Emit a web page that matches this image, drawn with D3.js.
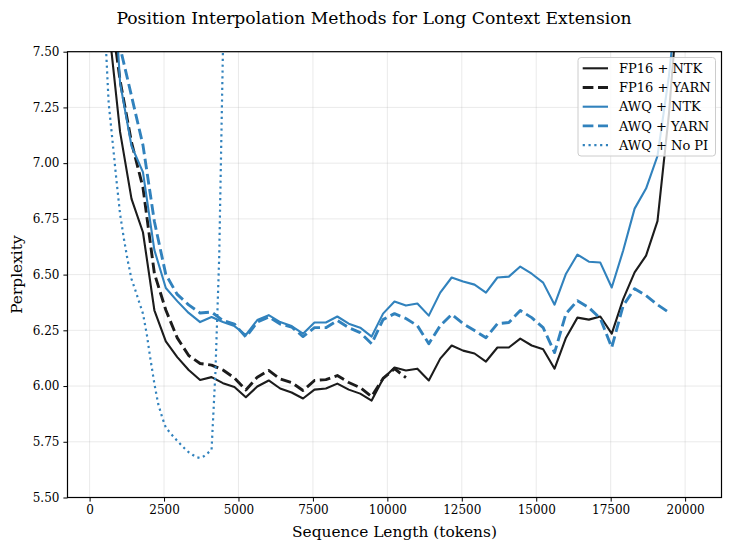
<!DOCTYPE html>
<html>
<head>
<meta charset="utf-8">
<script src="https://cdn.jsdelivr.net/npm/d3@7"></script>
<style>
  html, body { margin: 0; padding: 0; background: #fff; }
  svg { display: block; }
  text { font-family: "DejaVu Serif", "Liberation Serif", serif; }
</style>
</head>
<body>
<svg id="chart" width="731" height="549"></svg>
<script>
// ---------------- data ----------------
const seqLen = [256, 640, 1024, 1408, 1792, 2176, 2560, 2944, 3328, 3712, 4096, 4480, 4864, 5248, 5632, 6016, 6400, 6784, 7168, 7552, 7936, 8320, 8704, 9088, 9472, 9856, 10240, 10624, 11008, 11392, 11776, 12160, 12544, 12928, 13312, 13696, 14080, 14464, 14848, 15232, 15616, 16000, 16384, 16768, 17152, 17536, 17920, 18304, 18688, 19072, 19456, 19840, 20224];

const fp16Ntk = [8.60, 7.62, 7.14, 6.84, 6.69, 6.34, 6.20, 6.13, 6.072, 6.027, 6.04, 6.013, 5.996, 5.95, 5.998, 6.025, 5.989, 5.971, 5.944, 5.984, 5.989, 6.011, 5.984, 5.966, 5.935, 6.033, 6.083, 6.07, 6.078, 6.025, 6.123, 6.182, 6.159, 6.146, 6.11, 6.173, 6.173, 6.213, 6.182, 6.165, 6.078, 6.217, 6.307, 6.298, 6.312, 6.235, 6.39, 6.51, 6.585, 6.74, 7.22, 7.87, 8.50];

const fp16Yarn = [8.80, 7.758, 7.371, 7.093, 6.891, 6.505, 6.341, 6.216, 6.137, 6.101, 6.094, 6.072, 6.036, 5.982, 6.04, 6.07, 6.032, 6.016, 5.98, 6.025, 6.029, 6.047, 6.016, 5.993, 5.953, 6.034, 6.078, 6.038];

const awqNtk = [9.5, 8.2, 7.36, 7.077, 6.96, 6.61, 6.44, 6.381, 6.328, 6.287, 6.31, 6.287, 6.269, 6.229, 6.296, 6.318, 6.287, 6.269, 6.235, 6.285, 6.285, 6.312, 6.28, 6.262, 6.222, 6.325, 6.379, 6.361, 6.37, 6.316, 6.419, 6.487, 6.469, 6.455, 6.419, 6.487, 6.491, 6.536, 6.504, 6.464, 6.365, 6.504, 6.59, 6.558, 6.554, 6.442, 6.608, 6.796, 6.886, 7.032, 7.39, 7.876, 8.4];

const awqYarn = [9.2, 8.0, 7.52, 7.301, 7.081, 6.738, 6.50, 6.411, 6.364, 6.328, 6.332, 6.294, 6.278, 6.22, 6.287, 6.31, 6.278, 6.265, 6.222, 6.262, 6.262, 6.294, 6.262, 6.24, 6.19, 6.298, 6.325, 6.303, 6.271, 6.19, 6.271, 6.321, 6.28, 6.249, 6.217, 6.28, 6.285, 6.339, 6.307, 6.262, 6.15, 6.325, 6.383, 6.352, 6.303, 6.173, 6.361, 6.437, 6.406, 6.365, 6.33];

const noPiLen = [384, 512, 640, 768, 896, 1024, 1152, 1280, 1408, 1536, 1664, 1792, 1920, 2048, 2176, 2304, 2432, 2560, 2688, 2816, 2944, 3072, 3200, 3328, 3456, 3584, 3712, 3840, 3968, 4096, 4224, 4352, 4480, 4608];
const awqNoPi = [8.4, 7.62, 7.27, 7.102, 6.931, 6.771, 6.661, 6.563, 6.48, 6.43, 6.377, 6.325, 6.233, 6.117, 6.01, 5.92, 5.862, 5.813, 5.793, 5.773, 5.754, 5.736, 5.719, 5.703, 5.692, 5.681, 5.677, 5.685, 5.699, 5.714, 6.056, 6.574, 7.52, 8.6];

const xTicks = [0, 2500, 5000, 7500, 10000, 12500, 15000, 17500, 20000];
const yTicks = [5.50, 5.75, 6.00, 6.25, 6.50, 6.75, 7.00, 7.25, 7.50];

const seriesNames = ["FP16 + NTK", "FP16 + YARN", "AWQ + NTK", "AWQ + YARN", "AWQ + No PI"];

const titleText = "Position Interpolation Methods for Long Context Extension";
const xLabel = "Sequence Length (tokens)";
const yLabel = "Perplexity";

// ---------------- layout ----------------
const BLACK = "#1c1c1c", BLUE = "#3182bd";
const plotL = 67.5, plotR = 721.5, plotT = 51.7, plotB = 497.5;

const series = [
  { name: seriesNames[0], xs: seqLen, ys: fp16Ntk, color: BLACK, width: 2.1, dash: null },
  { name: seriesNames[1], xs: seqLen, ys: fp16Yarn, color: BLACK, width: 2.9, dash: "10.7,4.6" },
  { name: seriesNames[2], xs: seqLen, ys: awqNtk, color: BLUE, width: 2.1, dash: null },
  { name: seriesNames[3], xs: seqLen, ys: awqYarn, color: BLUE, width: 2.9, dash: "10.7,4.6" },
  { name: seriesNames[4], xs: noPiLen, ys: awqNoPi, color: BLUE, width: 2.2, dash: "2.2,3.6" }
];

const svg = d3.select("#chart");

const x = d3.scaleLinear().domain([-742, 21222]).range([plotL, plotR]);
const y = d3.scaleLinear().domain([5.5, 7.5]).range([plotB, plotT]);

// grid
const grid = svg.append("g");
grid.selectAll("line.gx").data(xTicks).enter().append("line")
  .attr("x1", d => x(d)).attr("x2", d => x(d))
  .attr("y1", plotT).attr("y2", plotB)
  .attr("stroke", "#b0b0b0").attr("stroke-opacity", 0.3).attr("stroke-width", 0.9);
grid.selectAll("line.gy").data(yTicks).enter().append("line")
  .attr("x1", plotL).attr("x2", plotR)
  .attr("y1", d => y(d)).attr("y2", d => y(d))
  .attr("stroke", "#b0b0b0").attr("stroke-opacity", 0.3).attr("stroke-width", 0.9);

// clip
svg.append("defs").append("clipPath").attr("id", "plotclip")
  .append("rect").attr("x", plotL).attr("y", plotT)
  .attr("width", plotR - plotL).attr("height", plotB - plotT);

const lineGen = d3.line().x(d => x(d[0])).y(d => y(d[1]));
const linesG = svg.append("g").attr("clip-path", "url(#plotclip)");
series.forEach(s => {
  const pts = s.ys.map((v, i) => [s.xs[i], v]);
  const p = linesG.append("path").datum(pts)
    .attr("d", lineGen)
    .attr("fill", "none")
    .attr("stroke", s.color)
    .attr("stroke-width", s.width)
    .attr("stroke-linejoin", "round");
  if (s.dash) p.attr("stroke-dasharray", s.dash).attr("stroke-linecap", "butt");
});

// axes
const xAxis = d3.axisBottom(x).tickValues(xTicks).tickSize(4.1).tickPadding(4).tickFormat(d3.format("d"));
const yAxis = d3.axisLeft(y).tickValues(yTicks).tickSize(4.1).tickPadding(4).tickFormat(d3.format(".2f"));

const gx = svg.append("g").attr("transform", `translate(0,${plotB})`).call(xAxis);
const gy = svg.append("g").attr("transform", `translate(${plotL},0)`).call(yAxis);
[gx, gy].forEach(g => {
  g.select(".domain").remove();
  g.selectAll(".tick line").attr("stroke", "#000").attr("stroke-width", 1);
  g.selectAll(".tick text").attr("fill", "#000")
    .style("font-family", "'DejaVu Serif', serif").style("font-size", "12px");
});

// frame
svg.append("rect").attr("x", plotL).attr("y", plotT)
  .attr("width", plotR - plotL).attr("height", plotB - plotT)
  .attr("fill", "none").attr("stroke", "#000").attr("stroke-width", 1.2);

// labels
svg.append("text").attr("x", 374).attr("y", 23.5)
  .attr("text-anchor", "middle").style("font-size", "17.2px").attr("fill", "#000")
  .text(titleText);
svg.append("text").attr("x", (plotL + plotR) / 2).attr("y", 537)
  .attr("text-anchor", "middle").style("font-size", "15.4px").attr("fill", "#000")
  .text(xLabel);
svg.append("text").attr("transform", `translate(21.5,${(plotT + plotB) / 2}) rotate(-90)`)
  .attr("text-anchor", "middle").style("font-size", "15.4px").attr("fill", "#000")
  .text(yLabel);

// legend
const lg = svg.append("g");
const lgX = 578, lgY = 57.5, lgW = 137.5, lgH = 98.5, rowH = 19.2;
lg.append("rect").attr("x", lgX).attr("y", lgY).attr("width", lgW).attr("height", lgH)
  .attr("rx", 3).attr("fill", "#fff").attr("fill-opacity", 0.8)
  .attr("stroke", "#cccccc").attr("stroke-width", 1);
series.forEach((s, i) => {
  const cy = lgY + 10.8 + i * rowH;
  const l = lg.append("line").attr("x1", lgX + 4.7).attr("x2", lgX + 30)
    .attr("y1", cy).attr("y2", cy)
    .attr("stroke", s.color).attr("stroke-width", s.width);
  if (s.dash) l.attr("stroke-dasharray", s.dash);
  lg.append("text").attr("x", lgX + 41).attr("y", cy + 4.6)
    .style("font-size", "13px").attr("fill", "#000").text(s.name);
});
</script>
</body>
</html>
